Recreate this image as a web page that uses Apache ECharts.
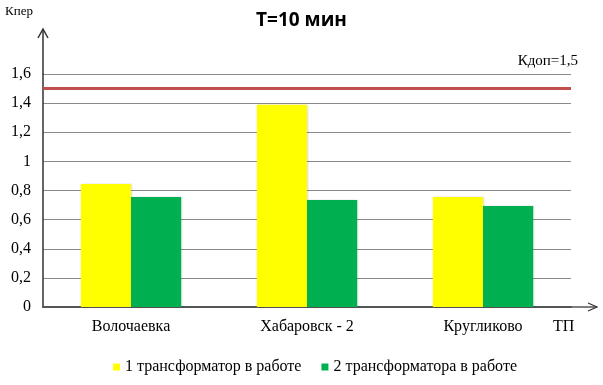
<!DOCTYPE html>
<html>
<head>
<meta charset="utf-8">
<script src="https://cdn.jsdelivr.net/npm/echarts@6/dist/echarts.min.js"></script>
<style>html,body{margin:0;padding:0;background:#fff}#c{width:603px;height:385px}</style>
</head>
<body>
<div id="c"></div>
<script>
var categories = ['Волочаевка', 'Хабаровск - 2', 'Кругликово'];
var seriesNames = ['1 трансформатор в работе', '2 трансформатора в работе'];
var oneTransformer = [0.845, 1.388, 0.756];
var twoTransformers = [0.756, 0.735, 0.694];
var kAllowed = 1.5;
var titleText = 'T=10 мин';
var yName = 'Кпер';
var xName = 'ТП';
var limitLabel = 'Кдоп=1,5';

var G = {left: 43, right: 32, top: 74, bottom: 78};
var W = 603, H = 385;
var serif = '"Liberation Serif", "Times New Roman", serif';

var chart = echarts.init(document.getElementById('c'), null, {renderer: 'canvas'});
var x0 = G.left, y0 = H - G.bottom, xEnd = W - G.right;
chart.setOption({
  animation: false,
  backgroundColor: '#fff',
  title: {
    text: titleText, left: 'center', top: 11, padding: 0,
    textStyle: {fontFamily: '"Open Sans", "Liberation Sans", sans-serif', fontWeight: 'bold', fontSize: 19, color: '#000'}
  },
  legend: {
    bottom: 5, left: 108,
    itemWidth: 7, itemHeight: 7, itemGap: 20, icon: 'rect',
    textStyle: {fontFamily: serif, fontSize: 16, color: '#000'},
    data: seriesNames
  },
  grid: {left: G.left, right: G.right, top: G.top, bottom: G.bottom, containLabel: false},
  xAxis: {
    type: 'category', data: categories,
    axisLine: {show: true, lineStyle: {color: '#555', width: 2}},
    axisTick: {show: false},
    axisLabel: {fontFamily: serif, fontSize: 16, color: '#000', margin: 12}
  },
  yAxis: {
    type: 'value', min: 0, max: 1.6, interval: 0.2,
    axisLine: {show: true, lineStyle: {color: '#333', width: 1.5}},
    axisTick: {show: false},
    splitLine: {show: true, lineStyle: {color: '#8a8a8a', width: 1}},
    axisLabel: {
      fontFamily: serif, fontSize: 16, color: '#000', margin: 12,
      formatter: function (v) { return String(Math.round(v * 10) / 10).replace('.', ','); }
    }
  },
  series: [
    {
      name: seriesNames[0], type: 'bar', data: oneTransformer,
      barGap: '0%', barCategoryGap: '43%',
      itemStyle: {color: '#FFFF00', shadowColor: 'rgba(0,0,0,0.15)', shadowBlur: 2, shadowOffsetX: 1},
      markLine: {
        silent: true, symbol: ['none', 'none'],
        lineStyle: {color: '#C0504D', width: 3, type: 'solid'},
        label: {show: true, position: 'insideEndTop', formatter: limitLabel, fontFamily: serif, fontSize: 15, color: '#000', distance: [-7, 20]},
        data: [{yAxis: kAllowed}]
      }
    },
    {
      name: seriesNames[1], type: 'bar', data: twoTransformers,
      itemStyle: {color: '#00B050', shadowColor: 'rgba(0,0,0,0.15)', shadowBlur: 2, shadowOffsetX: 1}
    }
  ],
  graphic: [
    {type: 'line', shape: {x1: x0, y1: G.top, x2: x0, y2: 29}, style: {stroke: '#333', lineWidth: 1.5}},
    {type: 'polyline', shape: {points: [[x0 - 5, 38], [x0, 29], [x0 + 5, 38]]}, style: {stroke: '#333', lineWidth: 1.5, fill: null}},
    {type: 'line', shape: {x1: xEnd, y1: y0, x2: 597, y2: y0}, style: {stroke: '#555', lineWidth: 1.5}},
    {type: 'polyline', shape: {points: [[588, y0 - 4], [597, y0], [588, y0 + 4]]}, style: {stroke: '#333', lineWidth: 1.2, fill: null}},
    {type: 'text', left: 5, top: 5, style: {text: yName, font: '13px ' + serif, fill: '#000'}},
    {type: 'text', left: 553, top: y0 + 12, style: {text: xName, font: '16px ' + serif, fill: '#000'}}
  ]
});
</script>
</body>
</html>
